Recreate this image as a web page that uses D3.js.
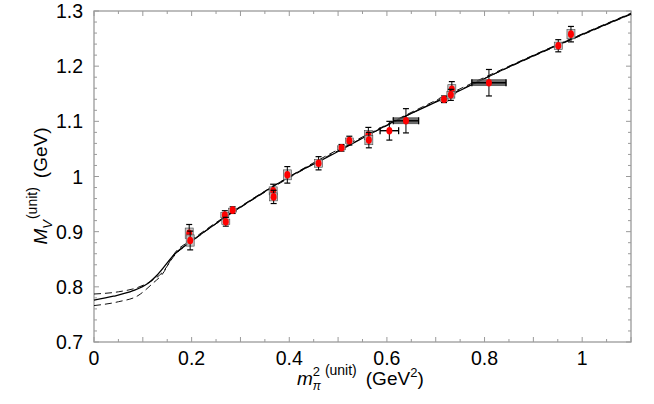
<!DOCTYPE html>
<html>
<head>
<meta charset="utf-8">
<script src="https://cdn.jsdelivr.net/npm/d3@7"></script>
<style>
  body { margin: 0; background: #fff; }
  svg { display: block; font-family: "Liberation Sans", Arial, sans-serif; }
</style>
</head>
<body>
<svg id="chart" width="654" height="404"></svg>
<script>
// fit curve (central) and error band (dashed)
var fitX = [0, 0.04, 0.08, 0.11, 0.13, 0.166, 0.2, 0.32, 0.42, 0.467, 0.62, 0.71, 0.87, 1.1];
var fitY = [0.776, 0.783, 0.793, 0.806, 0.822, 0.86, 0.883, 0.956, 1.009, 1.03, 1.102, 1.139, 1.207, 1.295];
var bandX = [0, 0.05, 0.09, 0.12, 0.14, 0.166, 0.2, 0.32, 0.42, 0.62, 0.87, 1.1];
var bandHi = [0.787, 0.791, 0.799, 0.812, 0.826, 0.858, 0.882, 0.955, 1.008, 1.101, 1.206, 1.294];
var bandLo = [0.766, 0.773, 0.784, 0.806, 0.823, 0.862, 0.885, 0.957, 1.010, 1.103, 1.208, 1.296];

// lattice points
var ptX = [0.195, 0.197, 0.268, 0.270, 0.284, 0.367, 0.368, 0.396, 0.460, 0.507, 0.523, 0.562, 0.563, 0.605, 0.639, 0.717, 0.733, 0.731, 0.809, 0.951, 0.977];
var ptY = [0.897, 0.884, 0.930, 0.918, 0.939, 0.974, 0.963, 1.003, 1.024, 1.052, 1.065, 1.075, 1.066, 1.083, 1.101, 1.140, 1.158, 1.148, 1.170, 1.237, 1.258];
var ptYErr = [0.016, 0.017, 0.008, 0.008, 0.006, 0.012, 0.012, 0.015, 0.012, 0.006, 0.008, 0.014, 0.014, 0.017, 0.022, 0.006, 0.014, 0.010, 0.024, 0.011, 0.014];
var ptXErr = [0.005, 0.005, 0.005, 0.005, 0.005, 0.006, 0.006, 0.008, 0.007, 0.005, 0.005, 0.005, 0.005, 0.019, 0.026, 0.006, 0.006, 0.006, 0.035, 0.007, 0.007];

var xTickLabels = [0, 0.2, 0.4, 0.6, 0.8, 1];
var yTickLabels = [0.7, 0.8, 0.9, 1, 1.1, 1.2, 1.3];

var svg = d3.select("#chart");
var x = d3.scaleLinear().domain([0, 1.1]).range([94, 631]);
var y = d3.scaleLinear().domain([0.7, 1.3]).range([342, 11]);
var frameColor = "#9a9a9a";

// minor / major ticks, pointing inward on all four sides
var xt = d3.range(0, 1.1001, 0.05);
var yt = d3.range(0.7, 1.3001, 0.02);
var ticks = svg.append("g").attr("stroke", frameColor).attr("stroke-width", 1);
xt.forEach(function (v) {
  var major = Math.abs(v * 10 - Math.round(v * 10)) < 1e-6;
  var len = major ? 5 : 3;
  ticks.append("line").attr("x1", x(v)).attr("x2", x(v)).attr("y1", y(0.7)).attr("y2", y(0.7) - len);
  ticks.append("line").attr("x1", x(v)).attr("x2", x(v)).attr("y1", y(1.3)).attr("y2", y(1.3) + len);
});
yt.forEach(function (v) {
  var major = Math.abs(v * 10 - Math.round(v * 10)) < 1e-6;
  var len = major ? 5 : 3;
  ticks.append("line").attr("y1", y(v)).attr("y2", y(v)).attr("x1", x(0)).attr("x2", x(0) + len);
  ticks.append("line").attr("y1", y(v)).attr("y2", y(v)).attr("x1", x(1.1)).attr("x2", x(1.1) - len);
});

svg.append("rect")
  .attr("x", x(0)).attr("y", y(1.3))
  .attr("width", x(1.1) - x(0)).attr("height", y(0.7) - y(1.3))
  .attr("fill", "none").attr("stroke", frameColor).attr("stroke-width", 1.3);

// tick labels
svg.append("g").selectAll("text").data(xTickLabels).enter().append("text")
  .attr("x", function (d) { return x(d); })
  .attr("y", 365)
  .attr("text-anchor", "middle")
  .attr("font-size", 19.5)
  .text(function (d) { return d; });

svg.append("g").selectAll("text").data(yTickLabels).enter().append("text")
  .attr("x", 83)
  .attr("y", function (d) { return y(d) + 7; })
  .attr("text-anchor", "end")
  .attr("font-size", 19.5)
  .text(function (d) { return d; });

// fit curves
var line = d3.line().curve(d3.curveMonotoneX)
  .x(function (d) { return x(d[0]); })
  .y(function (d) { return y(d[1]); });

svg.append("path")
  .attr("d", line(d3.zip(bandX, bandHi)))
  .attr("fill", "none").attr("stroke", "#111").attr("stroke-width", 1)
  .attr("stroke-dasharray", "7,4");
svg.append("path")
  .attr("d", line(d3.zip(bandX, bandLo)))
  .attr("fill", "none").attr("stroke", "#111").attr("stroke-width", 1)
  .attr("stroke-dasharray", "7,4");
svg.append("path")
  .attr("d", line(d3.zip(fitX, fitY)))
  .attr("fill", "none").attr("stroke", "#000").attr("stroke-width", 1.3);

// data points
var pts = ptX.map(function (v, i) {
  return { x: v, y: ptY[i], ey: ptYErr[i], ex: ptXErr[i], wide: ptXErr[i] > 0.01, bar: ptXErr[i] > 0.022 };
});
var g = svg.append("g").selectAll("g").data(pts).enter().append("g");

// systematic boxes: light grey around narrow points, dark flat bar for the widest
g.filter(function (d) { return !d.wide || d.bar; }).append("rect")
  .attr("x", function (d) { return d.bar ? x(d.x - d.ex) : x(d.x) - 4; })
  .attr("width", function (d) { return d.bar ? x(d.x + d.ex) - x(d.x - d.ex) : 8; })
  .attr("y", function (d) { return d.bar ? y(d.y) - 3 : y(d.y + d.ey * 0.6); })
  .attr("height", function (d) { return d.bar ? 6 : y(d.y - d.ey * 0.6) - y(d.y + d.ey * 0.6); })
  .attr("fill", function (d) { return d.bar ? "#555" : "#bbb"; })
  .attr("fill-opacity", 0.85)
  .attr("stroke", "#444").attr("stroke-width", 0.6);

g.append("line")
  .attr("x1", function (d) { return x(d.x); })
  .attr("x2", function (d) { return x(d.x); })
  .attr("y1", function (d) { return y(d.y + d.ey); })
  .attr("y2", function (d) { return y(d.y - d.ey); })
  .attr("stroke", "#000").attr("stroke-width", 1);
[1, -1].forEach(function (s) {
  g.append("line")
    .attr("x1", function (d) { return x(d.x) - 3; })
    .attr("x2", function (d) { return x(d.x) + 3; })
    .attr("y1", function (d) { return y(d.y + s * d.ey); })
    .attr("y2", function (d) { return y(d.y + s * d.ey); })
    .attr("stroke", "#000").attr("stroke-width", 1.2);
});

// horizontal error bars where they are wide
var gw = g.filter(function (d) { return d.wide; });
gw.append("line")
  .attr("x1", function (d) { return x(d.x - d.ex); })
  .attr("x2", function (d) { return x(d.x + d.ex); })
  .attr("y1", function (d) { return y(d.y); })
  .attr("y2", function (d) { return y(d.y); })
  .attr("stroke", "#000").attr("stroke-width", 1.4);
[1, -1].forEach(function (s) {
  gw.append("line")
    .attr("x1", function (d) { return x(d.x + s * d.ex); })
    .attr("x2", function (d) { return x(d.x + s * d.ex); })
    .attr("y1", function (d) { return y(d.y) - 3.5; })
    .attr("y2", function (d) { return y(d.y) + 3.5; })
    .attr("stroke", "#000").attr("stroke-width", 1.3);
});

g.append("ellipse")
  .attr("cx", function (d) { return x(d.x); })
  .attr("cy", function (d) { return y(d.y); })
  .attr("rx", 3).attr("ry", 3.8)
  .attr("fill", "#ff0000");

// axis titles built from pieces so sub/superscripts can stack
function pieces(parent, list) {
  var cx = 0;
  list.forEach(function (p) {
    var t = parent.append("text")
      .attr("x", cx + (p.dx || 0)).attr("y", p.dy || 0)
      .attr("font-size", p.size)
      .attr("font-style", p.italic ? "italic" : "normal")
      .text(p.t);
    var w = t.node().getComputedTextLength();
    if (p.adv !== false) cx += (p.dx || 0) + w;
  });
  return cx;
}

var xt0 = svg.append("g").attr("transform", "translate(297,385)");
pieces(xt0, [
  { t: "m", size: 19, italic: true },
  { t: "2", size: 13, dy: -9, adv: false },
  { t: "π", size: 12, dy: 5, italic: true },
  { t: "(unit)", size: 14, dy: -10, dx: 4 },
  { t: "(GeV", size: 19, dx: 9 },
  { t: "2", size: 13, dy: -8 },
  { t: ")", size: 19 }
]);

var yg = svg.append("g");
var yw = pieces(yg, [
  { t: "M", size: 19, italic: true },
  { t: "V", size: 13, dy: 5, italic: true },
  { t: "(unit)", size: 14, dy: -10, dx: 1 },
  { t: "(GeV)", size: 19, dx: 9 }
]);
yg.attr("transform", "translate(47," + (186 + yw / 2) + ") rotate(-90)");
</script>
</body>
</html>
